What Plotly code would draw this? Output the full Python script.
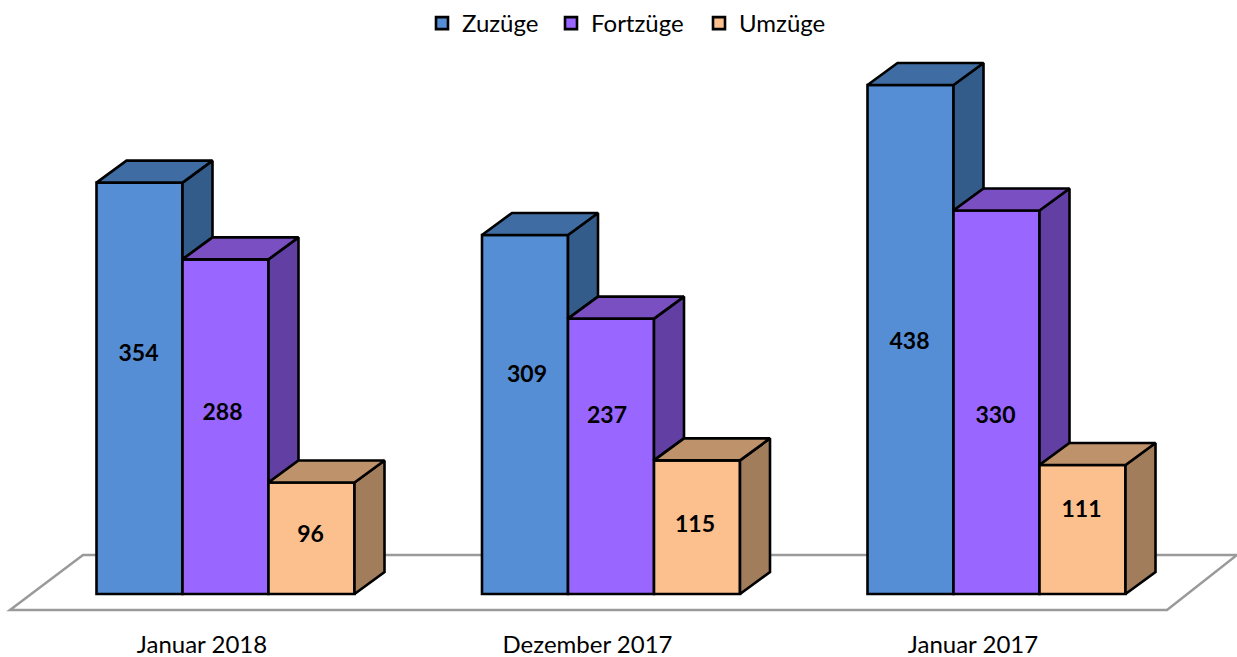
import plotly.graph_objects as go

# ---- data ----
categories = ["Januar 2018", "Dezember 2017", "Januar 2017"]
series_names = ["Zuzüge", "Fortzüge", "Umzüge"]
zuzuege = [354, 309, 438]
fortzuege = [288, 237, 330]
umzuege = [96, 115, 111]
# heights (in value units) at which the reference prints each label
zuzuege_label_at = [205.5, 187.5, 216]
fortzuege_label_at = [155, 152.5, 152]
umzuege_label_at = [49.5, 58, 71.5]

# ---- styles ----
FONT = "Lato"
front = ["#558ED5", "#9966FF", "#FBC08D"]
top = ["#3F6DA3", "#7A4FC2", "#BE926B"]
side = ["#335C8B", "#613FA3", "#A17D5C"]
label_shift_px = [[-1, 2, -1], [-3, -4, -1], [-1, -2, -1]]
legend_left_px = [422, 551, 699]

W, H = 1237, 657
PX_PER_X = 385.5          # pixels per category step
PX_PER_Y = 1.162          # pixels per value unit
X0_PX, Y0_PX = 225.5, 594.0   # pixel of category 0 / value 0
PLOT_BOTTOM = 628
LINE = 2.6
bar_w = 86 / PX_PER_X
dx = 30 / PX_PER_X        # depth offset
dy = 22 / PX_PER_Y
tick_shift = -23.5 / PX_PER_X


def xv(px):
    return (px - X0_PX) / PX_PER_X


def yv(px):
    return (Y0_PX - px) / PX_PER_Y


xs = list(range(len(categories)))
all_vals = [zuzuege, fortzuege, umzuege]
all_labels = [zuzuege_label_at, fortzuege_label_at, umzuege_label_at]
legend_ids = ["legend", "legend2", "legend3"]

fig = go.Figure()

# front faces: real bars, also give the legend
for k, name in enumerate(series_names):
    fig.add_trace(go.Bar(
        x=xs, y=all_vals[k], name=name, legend=legend_ids[k],
        marker=dict(color=front[k], line=dict(color="black", width=LINE)),
        hoverinfo="skip",
    ))

# depth faces derived from the same values
for k, name in enumerate(series_names):
    sx, sy, tx, ty = [], [], [], []
    for i in xs:
        v = all_vals[k][i]
        left = i + (k - 1.5) * bar_w
        right = left + bar_w
        low = all_vals[k + 1][i] if k < 2 else 0
        sx += [right, right + dx, right + dx, right, right, None]
        sy += [v, v + dy, low + dy, low, v, None]
        tx += [left, left + dx, right + dx, right, left, None]
        ty += [v, v + dy, v + dy, v, v, None]
    for px_, py_, col in ((sx, sy, side[k]), (tx, ty, top[k])):
        fig.add_trace(go.Scatter(
            x=px_, y=py_, mode="lines", fill="toself", fillcolor=col,
            line=dict(color="black", width=LINE), showlegend=False,
            hoverinfo="skip",
        ))

# value labels
for k in range(3):
    fig.add_trace(go.Scatter(
        x=[i + (k - 1) * bar_w + label_shift_px[k][i] / PX_PER_X for i in xs],
        y=all_labels[k],
        text=[str(v) for v in all_vals[k]], mode="text",
        textposition="middle center",
        textfont=dict(family=FONT, size=23, color="black", weight="bold"),
        showlegend=False, hoverinfo="skip",
    ))

# floor (behind the bars)
floor = [(10, 610), (83, 555), (1237, 555), (1167, 610)]
path = "M" + " L".join(f"{xv(a)},{yv(b)}" for a, b in floor) + " Z"
fig.add_shape(type="path", path=path, layer="below", xref="x", yref="y",
              line=dict(color="#9A9A9A", width=2.5), fillcolor="white")

legends = {}
for k, lid in enumerate(legend_ids):
    legends[lid] = dict(
        orientation="h", x=legend_left_px[k] / W, xanchor="left",
        y=1 - 1 / PLOT_BOTTOM, yanchor="top",
        font=dict(family=FONT, size=24), bgcolor="rgba(0,0,0,0)",
    )

fig.update_layout(
    width=W, height=H,
    margin=dict(l=0, r=0, t=0, b=H - PLOT_BOTTOM),
    paper_bgcolor="white", plot_bgcolor="white",
    barmode="group", bargap=1 - 3 * bar_w, bargroupgap=0,
    font=dict(family=FONT, size=24, color="black"),
    xaxis=dict(
        range=[xv(0), xv(W)], showgrid=False, zeroline=False, showline=False,
        tickmode="array", tickvals=[i + tick_shift for i in xs],
        ticktext=categories, ticks="", tickfont=dict(family=FONT, size=24),
        fixedrange=True,
    ),
    yaxis=dict(
        range=[yv(PLOT_BOTTOM), yv(0)], visible=False, fixedrange=True,
    ),
    showlegend=True,
    **legends,
)

fig.write_html("out.html", post_script="document.body.style.margin='0';",
               config={"displayModeBar": False})
